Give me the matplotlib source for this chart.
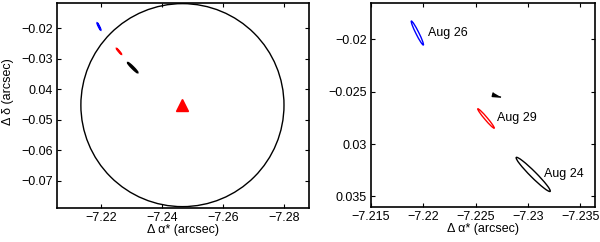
import matplotlib
matplotlib.use('Agg')
import matplotlib.pyplot as plt
from matplotlib.patches import Ellipse

plt.rcParams['font.family'] = ['Liberation Sans', 'DejaVu Sans']
plt.rcParams['font.size'] = 9

# error ellipses (offsets in arcsec)
labels = ['Aug 26', 'Aug 29', 'Aug 24']
colors = ['#0000ff', '#ff0000', '#000000']
ra_c = [-7.21943, -7.22599, -7.2305]
dec_c = [-0.0194, -0.02756, -0.0329]
major = [0.00255, 0.00242, 0.00458]
minor = [0.00028, 0.00026, 0.00057]
angle = [63.4, 49.7, 45.0]

# reference position and search circle
ref_ra, ref_dec = -7.2468, -0.0452
circle_r = 0.0333
marker_ra, marker_dec = -7.22687, -0.02535

left_xticks = [-7.22, -7.24, -7.26, -7.28]
left_xlabels = ['\u22127.22', '\u22127.24', '\u22127.26', '\u22127.28']
left_yticks = [-0.02, -0.03, -0.04, -0.05, -0.06, -0.07]
left_ylabels = ['\u22120.02', '\u22120.03', '0.04', '\u22120.05', '\u22120.06', '\u22120.07']
right_xticks = [-7.215, -7.22, -7.225, -7.23, -7.235]
right_xlabels = ['\u22127.215', '\u22127.22', '\u22127.225', '\u22127.23', '\u22127.235']
right_yticks = [-0.02, -0.025, -0.03, -0.035]
right_ylabels = ['\u22120.02', '\u22120.025', '0.03', '0.035']

fig = plt.figure(figsize=(6, 2.42), dpi=100)
ax1 = fig.add_axes([0.095, 0.1405, 0.42, 0.847])
ax2 = fig.add_axes([0.6183, 0.146, 0.3733, 0.840])

xlab = 'Δ α* (arcsec)'

# left panel
ax1.add_patch(Ellipse((ref_ra, ref_dec), 2 * circle_r, 2 * circle_r,
                      fill=False, ec='black', lw=1.0))
ax1.plot(ref_ra, ref_dec, '^', color='#ff0000', ms=8, mec='#ff0000')
for i in range(len(labels)):
    ax1.add_patch(Ellipse((ra_c[i], dec_c[i]), major[i], minor[i], angle=angle[i],
                          fill=False, ec=colors[i], lw=1.3))
ax1.set_xlim(-7.20567, -7.2883)
ax1.set_ylim(-0.07895, -0.0117)
ax1.set_xticks(left_xticks)
ax1.set_xticklabels(left_xlabels)
ax1.set_yticks(left_yticks)
ax1.set_yticklabels(left_ylabels)
ax1.set_xlabel(xlab, labelpad=0)
ax1.set_ylabel('Δ δ (arcsec)')
ax1.yaxis.set_label_coords(-0.17, 0.57)

# right panel
tri = [(-7, 9), (-10, -3), (17, -5)]
ax2.plot(marker_ra, marker_dec, marker=tri, color='black', ms=8, ls='none')
for i in range(len(labels)):
    ax2.add_patch(Ellipse((ra_c[i], dec_c[i]), major[i], minor[i], angle=angle[i],
                          fill=False, ec=colors[i], lw=1.0))
    ax2.annotate(labels[i], (ra_c[i], dec_c[i]), xytext=(8, 0),
                 textcoords='offset points', va='center', ha='left')
ax2.set_xlim(-7.21504, -7.2364)
ax2.set_ylim(-0.03598, -0.01657)
ax2.set_xticks(right_xticks)
ax2.set_xticklabels(right_xlabels)
ax2.set_yticks(right_yticks)
ax2.set_yticklabels(right_ylabels)
ax2.set_xlabel(xlab, labelpad=0)

for ax in (ax1, ax2):
    ax.tick_params(direction='in', top=True, right=True, length=3, width=0.8, pad=3)
    for s in ax.spines.values():
        s.set_linewidth(1.2)

fig.savefig('out.png', dpi=100)
